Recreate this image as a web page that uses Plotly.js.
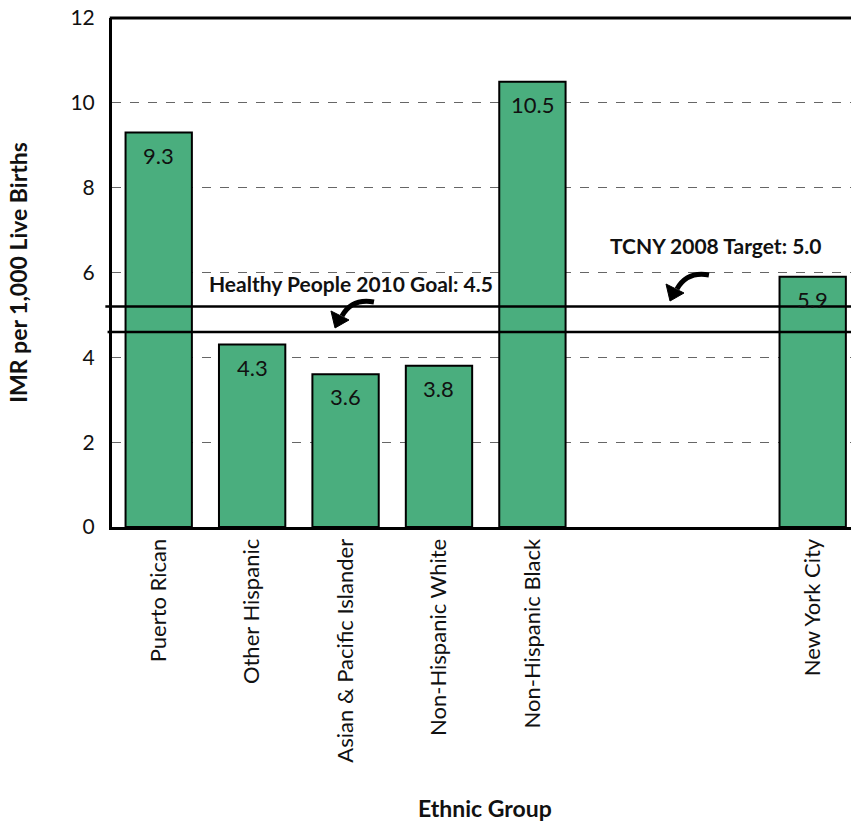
<!DOCTYPE html>
<html>
<head>
<meta charset="utf-8">
<script src="https://cdn.plot.ly/plotly-3.0.1.min.js"></script>
<style>html,body{margin:0;padding:0;background:#fff;overflow:hidden}</style>
</head>
<body>
<div id="chart" style="width:851px;height:821px"></div>
<script>
// Data
const categories = ["Puerto Rican", "Other Hispanic", "Asian & Pacific Islander", "Non-Hispanic White", "Non-Hispanic Black", " ", "  ", "New York City"];
const imrValues = [9.3, 4.3, 3.6, 3.8, 10.5, null, null, 5.9];
const valueLabels = ["9.3", "4.3", "3.6", "3.8", "10.5", "", "", "5.9"];
const healthyPeopleLevel = 4.6;   // line as drawn in the picture
const healthyPeopleLabel = "Healthy People 2010 Goal: 4.5";
const tcnyLevel = 5.2;            // line as drawn in the picture
const tcnyLabel = "TCNY 2008 Target: 5.0";
const yTicks = [0, 2, 4, 6, 8, 10, 12];

const FONT = "Lato, 'Open Sans', sans-serif";
const barColor = "#4aae7e";

// plot-area geometry (pixels) used only for decorative arrows
const PL = 112, PW = 739, PB = 527, PH = 509;
const px = (x) => ((x - PL) / PW).toFixed(4);
const py = (y) => ((PB - y) / PH).toFixed(4);

function curvedArrow(dx, dy) {
  const P = (x, y) => px(x + dx) + "," + py(y + dy);
  return [
    {type: "path", xref: "paper", yref: "paper", layer: "above",
     path: "M" + P(374, 302) + " Q" + P(352, 298) + " " + P(342, 316),
     line: {color: "#000", width: 5}},
    {type: "path", xref: "paper", yref: "paper", layer: "above",
     path: "M" + P(335, 328) + " L" + P(331, 311) + " L" + P(349, 320) + " Z",
     fillcolor: "#000", line: {color: "#000", width: 1}}
  ];
}

const trace = {
  type: "bar",
  x: categories,
  y: imrValues,
  width: 0.71,
  marker: {color: barColor, line: {color: "#000", width: 2}},
  hoverinfo: "none"
};

const valueAnnotations = categories.map((c, i) => imrValues[i] == null ? null : ({
  x: c, y: imrValues[i], xref: "x", yref: "y",
  text: valueLabels[i], showarrow: false,
  yanchor: "top", yshift: -7,
  font: {family: FONT, size: 22, color: "#111"}
})).filter(a => a);

const layout = {
  width: 851, height: 821,
  margin: {l: 112, r: 0, t: 18, b: 294},
  paper_bgcolor: "#fff", plot_bgcolor: "#fff",
  showlegend: false,
  xaxis: {
    type: "category",
    range: [-0.5, 7.41],
    tickangle: -90,
    tickfont: {family: FONT, size: 22, color: "#111"},
    showline: true, linecolor: "#000", linewidth: 3,
    ticks: "", ticklabelstandoff: 0,
    showgrid: false, zeroline: false, fixedrange: true
  },
  yaxis: {
    range: [0, 12],
    tickvals: yTicks,
    ticktext: yTicks.map(String),
    tickfont: {family: FONT, size: 21, color: "#111"},
    showline: true, linecolor: "#000", linewidth: 3,
    ticks: "", ticklabelstandoff: 10,
    showgrid: true, gridcolor: "#666", griddash: "dash", gridwidth: 1,
    zeroline: false, fixedrange: true,
    title: {text: "IMR per 1,000 Live Births", font: {family: FONT, size: 23, color: "#111", weight: "bold"}, standoff: 37}
  },
  shapes: [
    {type: "line", xref: "paper", yref: "paper", x0: -0.003, x1: 1.01, y0: 1, y1: 1, line: {color: "#000", width: 3}, layer: "above"},
    {type: "line", xref: "paper", yref: "y", x0: -0.009, x1: 1.01, y0: tcnyLevel, y1: tcnyLevel, line: {color: "#000", width: 2.5}, layer: "above"},
    {type: "line", xref: "paper", yref: "y", x0: -0.006, x1: 1.01, y0: healthyPeopleLevel, y1: healthyPeopleLevel, line: {color: "#000", width: 2.5}, layer: "above"}
  ].concat(curvedArrow(0, 0), curvedArrow(335, -27)),
  annotations: valueAnnotations.concat([
    {xref: "paper", yref: "paper", x: (485 - 112) / 739, y: -(808 - 527) / 509, text: "Ethnic Group", showarrow: false, xanchor: "center", yanchor: "middle",
     font: {family: FONT, size: 23, color: "#111", weight: "bold"}},
    {xref: "paper", yref: "paper", x: (351 - 112) / 739, y: (527 - 283) / 509, text: healthyPeopleLabel, showarrow: false, xanchor: "center", yanchor: "middle",
     font: {family: FONT, size: 21, color: "#111", weight: "bold"}},
    {xref: "paper", yref: "paper", x: (716 - 112) / 739, y: (527 - 246) / 509, text: tcnyLabel, showarrow: false, xanchor: "center", yanchor: "middle",
     font: {family: FONT, size: 21, color: "#111", weight: "bold"}}
  ])
};

Plotly.newPlot("chart", [trace], layout, {displayModeBar: false, staticPlot: true});
</script>
</body>
</html>
